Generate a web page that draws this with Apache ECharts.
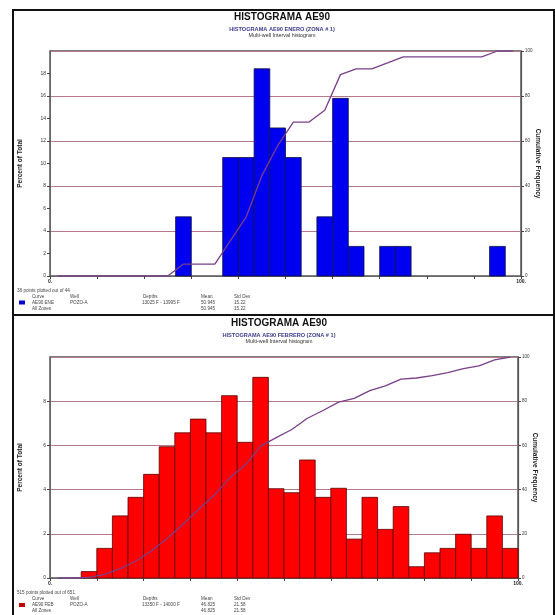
<!DOCTYPE html>
<html>
<head>
<meta charset="utf-8">
<script src="https://cdn.jsdelivr.net/npm/echarts@6/dist/echarts.min.js"></script>
<style>html,body{margin:0;padding:0;background:#fff;}#c{width:555px;height:615px;}</style>
</head>
<body>
<div id="c"></div>
<script>
// ---- data ----
const binCount = 30;
const xTickLabels = {0: '0.', 100: '100.'};
// ENERO (top) percent of total per bin (30 bins over 0..100)
const eneroPercent = [0,0,0,0,0,0,0,0,5.26,0,0,10.53,10.53,18.42,13.16,10.53,0,5.26,15.79,2.63,0,2.63,2.63,0,0,0,0,0,2.63,0];
const eneroCumulative = [0,0,0,0,0,0,0,0,5.3,5.3,5.3,15.8,26.3,44.7,57.9,68.4,68.4,73.7,89.5,92.1,92.1,94.7,97.4,97.4,97.4,97.4,97.4,97.4,100,100];
// FEBRERO (bottom)
const febreroPercent = [0,0,0.29,1.34,2.81,3.65,4.69,5.94,6.57,7.19,6.57,8.25,6.14,9.08,4.04,3.86,5.34,3.65,4.06,1.76,3.65,2.20,3.23,0.51,1.14,1.34,1.98,1.34,2.81,1.34];
const febreroCumulative = [0,0,0.3,1.6,4.2,7.7,12.2,17.9,24.1,31.0,37.3,45.2,51.0,59.7,63.5,67.2,72.3,75.8,79.6,81.3,84.8,86.9,90.0,90.5,91.6,92.9,94.7,96.0,98.7,100];

const topTitles = ['HISTOGRAMA AE90', 'HISTOGRAMA AE90 ENERO (ZONA # 1)', 'Multi-well Interval histogram'];
const botTitles = ['HISTOGRAMA AE90', 'HISTOGRAMA AE90 FEBRERO (ZONA # 1)', 'Multi-well Interval histogram'];
const topLegend = {points: '38 points plotted out of 44', curve: 'AE90 ENE', well: 'POZO-A', depths: '13025 F - 13995 F', mean: '50.945', std: '15.22'};
const botLegend = {points: '515 points plotted out of 651', curve: 'AE90 FEB', well: 'POZO-A', depths: '13350 F - 14000 F', mean: '46.825', std: '21.58'};

// ---- chart ----
const FONT = 'Liberation Sans, Arial, sans-serif';
const binW = 100 / binCount;
const gridColor = '#b47a8a';

function barRender(fill, stroke) {
  return function (params, api) {
    const i = api.value(0), v = api.value(1);
    const p0 = api.coord([i * binW, v]);
    const p1 = api.coord([(i + 1) * binW, 0]);
    return {type: 'rect', shape: {x: p0[0], y: p0[1], width: p1[0] - p0[0], height: p1[1] - p0[1]},
      style: {fill: fill, stroke: stroke, lineWidth: 0.8}};
  };
}

function xAxis(gi) {
  return {type: 'value', gridIndex: gi, min: 0, max: 100, interval: 10,
    axisLine: {show: true, lineStyle: {color: '#666', width: 1}},
    axisTick: {show: true, length: 3, lineStyle: {color: '#444'}},
    axisLabel: {fontSize: 5, fontFamily: FONT, color: '#222', margin: 3, fontWeight: 'bold',
      formatter: v => xTickLabels[v] || ''},
    splitLine: {show: false}};
}
function yLeft(gi, max) {
  return {type: 'value', gridIndex: gi, min: 0, max: max, interval: 2, position: 'left',
    axisLine: {show: true, lineStyle: {color: '#666', width: 1}},
    axisTick: {show: true, length: 3, lineStyle: {color: '#444'}},
    axisLabel: {fontSize: 5, fontFamily: FONT, color: '#333', margin: 4, showMaxLabel: false},
    splitLine: {show: false},
    name: 'Percent of Total', nameLocation: 'middle', nameGap: 26, nameRotate: 90, nameMoveOverlap: false,
    nameTextStyle: {fontSize: 6.5, fontWeight: 'bold', fontFamily: FONT, color: '#222'}};
}
function yRight(gi) {
  return {type: 'value', gridIndex: gi, min: 0, max: 100, interval: 20, position: 'right',
    axisLine: {show: true, lineStyle: {color: '#555', width: 1.2}},
    axisTick: {show: true, length: 3, lineStyle: {color: '#444'}},
    axisLabel: {fontSize: 4.5, fontFamily: FONT, color: '#333', margin: 4},
    splitLine: {show: true, lineStyle: {color: gridColor, width: 1}},
    name: 'Cumulative Frequency', nameLocation: 'middle', nameGap: 13, nameRotate: -90, nameMoveOverlap: false,
    nameTextStyle: {fontSize: 6.5, fontWeight: 'bold', fontFamily: FONT, color: '#222'}};
}

function titleTexts(t, cx, y0) {
  return [
    {type: 'text', x: cx, y: y0, style: {text: t[0], font: 'bold 10px ' + FONT, fill: '#111', align: 'center', verticalAlign: 'middle'}},
    {type: 'text', x: cx, y: y0 + 12.5, style: {text: t[1], font: 'bold 5.6px ' + FONT, fill: '#3b3b8c', align: 'center', verticalAlign: 'middle'}},
    {type: 'text', x: cx, y: y0 + 18.5, style: {text: t[2], font: '5.4px ' + FONT, fill: '#333', align: 'center', verticalAlign: 'middle'}}
  ];
}
function legendTexts(L, y, color) {
  const f = '4.6px ' + FONT, c = '#444';
  const t = (x, yy, s) => ({type: 'text', x: x, y: yy, style: {text: s, font: f, fill: c, verticalAlign: 'middle'}});
  return [
    t(17, y, L.points),
    t(32, y + 6, 'Curve'), t(70, y + 6, 'Well'), t(143, y + 6, 'Depths'), t(201, y + 6, 'Mean'), t(234, y + 6, 'Std Dev'),
    {type: 'rect', shape: {x: 19, y: y + 10, width: 6, height: 4}, style: {fill: color}},
    t(32, y + 12, L.curve), t(70, y + 12, L.well), t(142, y + 12, L.depths), t(201, y + 12, L.mean), t(234, y + 12, L.std),
    t(32, y + 18, 'All Zones'), t(201, y + 18, L.mean), t(234, y + 18, L.std)
  ];
}

const chart = echarts.init(document.getElementById('c'), null, {renderer: 'canvas'});
const option = {
  animation: false,
  backgroundColor: '#fff',
  grid: [
    {left: 50, top: 51, width: 471, height: 225, show: true, borderColor: '#555', borderWidth: 1.5, backgroundColor: 'transparent'},
    {left: 50, top: 357, width: 468, height: 221, show: true, borderColor: '#555', borderWidth: 1.5, backgroundColor: 'transparent'}
  ],
  xAxis: [xAxis(0), xAxis(1)],
  yAxis: [yLeft(0, 20), yRight(0), yLeft(1, 10), yRight(1)],
  series: [
    {type: 'custom', xAxisIndex: 0, yAxisIndex: 0, renderItem: barRender('#0000f0', '#101040'),
      data: eneroPercent.map((v, i) => [i, v]).filter(d => d[1] > 0), z: 2},
    {type: 'line', xAxisIndex: 0, yAxisIndex: 1, showSymbol: false, symbol: 'none',
      data: eneroCumulative.map((v, i) => [(i + 0.5) * binW, v]),
      lineStyle: {color: '#7a3f8a', width: 1.3}, z: 3},
    {type: 'custom', xAxisIndex: 1, yAxisIndex: 2, renderItem: barRender('#ff0000', '#5a0000'),
      data: febreroPercent.map((v, i) => [i, v]).filter(d => d[1] > 0), z: 2},
    {type: 'line', xAxisIndex: 1, yAxisIndex: 3, showSymbol: false, symbol: 'none',
      data: febreroCumulative.map((v, i) => [(i + 0.5) * binW, v]),
      lineStyle: {color: '#7a3f8a', width: 1.3}, z: 3}
  ],
  graphic: [
    {type: 'rect', shape: {x: 13, y: 10, width: 541, height: 305}, style: {fill: 'none', stroke: '#111', lineWidth: 2}, silent: true},
    {type: 'rect', shape: {x: 13, y: 315, width: 541, height: 310}, style: {fill: 'none', stroke: '#111', lineWidth: 2}, silent: true}
  ].concat(titleTexts(topTitles, 282, 17))
   .concat(titleTexts(botTitles, 279, 323))
   .concat(legendTexts(topLegend, 290.5, '#0000d0'))
   .concat(legendTexts(botLegend, 593, '#c00000'))
};
chart.setOption(option);
</script>
</body>
</html>
